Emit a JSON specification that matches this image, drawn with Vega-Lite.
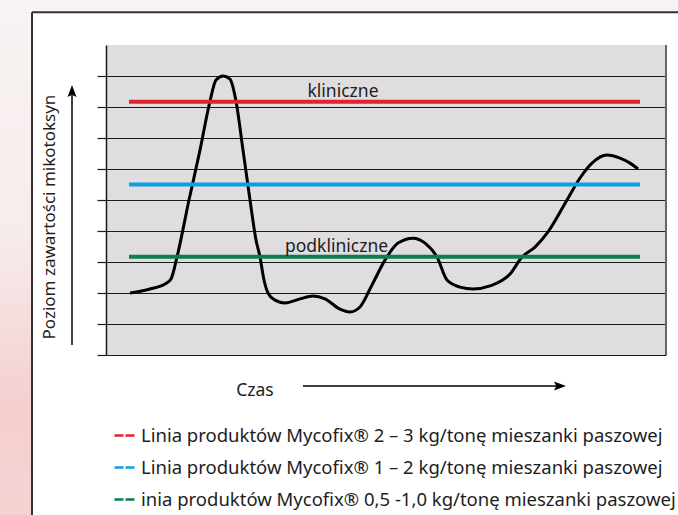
{
  "$schema": "https://vega.github.io/schema/vega-lite/v6.json",
  "width": 560,
  "height": 310,
  "autosize": {"type": "none"},
  "padding": {"left": 106, "top": 45, "right": 12, "bottom": 160},
  "background": "#ffffff",
  "config": {"view": {"stroke": null, "fill": "#dfdde0"}, "text": {"font": "Noto Sans", "color": "#1e1e1e"}},
  "resolve": {"axis": {"y": "independent", "x": "independent"}},
  "datasets": {
    "krzywa": [
      {"t": 24, "v": 2.0}, {"t": 44, "v": 2.13}, {"t": 59, "v": 2.29}, {"t": 65, "v": 2.45},
      {"t": 71, "v": 3.16}, {"t": 83, "v": 5.0}, {"t": 94, "v": 6.61}, {"t": 104, "v": 8.19},
      {"t": 110, "v": 8.87}, {"t": 117, "v": 9.0}, {"t": 124, "v": 8.9}, {"t": 130, "v": 8.19},
      {"t": 137, "v": 6.61}, {"t": 144, "v": 5.0}, {"t": 150, "v": 3.71}, {"t": 154, "v": 3.16},
      {"t": 158, "v": 2.42}, {"t": 162, "v": 2.0}, {"t": 169, "v": 1.77}, {"t": 179, "v": 1.68},
      {"t": 194, "v": 1.81}, {"t": 207, "v": 1.9}, {"t": 219, "v": 1.81}, {"t": 234, "v": 1.48},
      {"t": 244, "v": 1.39}, {"t": 254, "v": 1.55}, {"t": 266, "v": 2.26}, {"t": 279, "v": 3.06},
      {"t": 292, "v": 3.61}, {"t": 307, "v": 3.77}, {"t": 319, "v": 3.61}, {"t": 331, "v": 3.16},
      {"t": 341, "v": 2.42}, {"t": 354, "v": 2.19}, {"t": 367, "v": 2.13}, {"t": 384, "v": 2.23},
      {"t": 404, "v": 2.61}, {"t": 416, "v": 3.16}, {"t": 429, "v": 3.48}, {"t": 442, "v": 3.97},
      {"t": 461, "v": 5.0}, {"t": 474, "v": 5.71}, {"t": 486, "v": 6.19}, {"t": 501, "v": 6.45},
      {"t": 514, "v": 6.35}, {"t": 524, "v": 6.19}, {"t": 532, "v": 6.0}
    ],
    "linie": [
      {"seria": "Linia produktów Mycofix® 2 – 3 kg/tonę mieszanki paszowej", "poziom": 8.17, "od": 23, "do": 534},
      {"seria": "Linia produktów Mycofix® 1 – 2 kg/tonę mieszanki paszowej", "poziom": 5.5, "od": 23, "do": 534},
      {"seria": "inia produktów Mycofix® 0,5 -1,0 kg/tonę mieszanki paszowej", "poziom": 3.17, "od": 23, "do": 534}
    ],
    "etykiety": [
      {"tekst": "kliniczne", "t": 237, "v": 8.32},
      {"tekst": "podkliniczne", "t": 230.5, "v": 3.32}
    ]
  },
  "layer": [
    {
      "data": {"name": "krzywa"},
      "mark": {"type": "line", "color": "#000000", "strokeWidth": 3, "interpolate": "monotone"},
      "encoding": {
        "x": {"field": "t", "type": "quantitative", "scale": {"domain": [0, 560], "nice": false, "zero": false}, "axis": null},
        "y": {
          "field": "v",
          "type": "quantitative",
          "scale": {"domain": [0, 10], "nice": false, "zero": false},
          "axis": {
            "values": [0, 1, 2, 3, 4, 5, 6, 7, 8, 9],
            "grid": true,
            "gridColor": "#1a1a1a",
            "gridWidth": 1.2,
            "gridOpacity": 1,
            "ticks": true,
            "tickSize": 9,
            "tickColor": "#1a1a1a",
            "tickWidth": 1.2,
            "labels": false,
            "domain": true,
            "domainColor": "#1a1a1a",
            "domainWidth": 1.5,
            "title": null
          }
        }
      }
    },
    {
      "data": {"values": [{}]},
      "mark": {
        "type": "rect",
        "fill": {
          "gradient": "linear", "x1": 0, "y1": 0, "x2": 0, "y2": 1,
          "stops": [
            {"offset": 0, "color": "#f7f4f3"},
            {"offset": 0.4, "color": "#f7ecec"},
            {"offset": 0.68, "color": "#f4cfd0"},
            {"offset": 0.85, "color": "#f5d3d3"},
            {"offset": 1, "color": "#f7e4e4"}
          ]
        }
      },
      "encoding": {
        "x": {"datum": -120, "type": "quantitative", "axis": null},
        "x2": {"datum": -74},
        "y": {"datum": -8, "type": "quantitative", "axis": null},
        "y2": {"datum": 12}
      }
    },
    {
      "data": {"values": [{}]},
      "mark": {"type": "rect", "fill": "#f7f4f3"},
      "encoding": {
        "x": {"datum": -74, "type": "quantitative", "axis": null},
        "x2": {"datum": 620},
        "y": {"datum": 11.06, "type": "quantitative", "axis": null},
        "y2": {"datum": 12}
      }
    },
    {
      "data": {"values": [{}]},
      "mark": {"type": "rule", "stroke": "#333333", "strokeWidth": 2},
      "encoding": {
        "x": {"datum": -74, "type": "quantitative", "axis": null},
        "y": {"datum": -8, "type": "quantitative", "axis": null},
        "y2": {"datum": 11.06}
      }
    },
    {
      "data": {"values": [{}]},
      "mark": {"type": "rule", "stroke": "#333333", "strokeWidth": 2},
      "encoding": {
        "x": {"datum": -74, "type": "quantitative", "axis": null},
        "x2": {"datum": 620},
        "y": {"datum": 11.06, "type": "quantitative", "axis": null}
      }
    },
    {
      "data": {"values": [{}]},
      "mark": {"type": "rule", "stroke": "#666666", "strokeWidth": 2},
      "encoding": {
        "x": {"datum": 560, "type": "quantitative", "axis": null},
        "y": {"datum": 0, "type": "quantitative", "axis": null},
        "y2": {"datum": 10}
      }
    },
    {
      "data": {"name": "linie"},
      "mark": {"type": "rule", "strokeWidth": 4},
      "encoding": {
        "x": {"field": "od", "type": "quantitative", "axis": null},
        "x2": {"field": "do"},
        "y": {"field": "poziom", "type": "quantitative", "axis": null},
        "color": {
          "field": "seria",
          "type": "nominal",
          "scale": {
            "domain": [
              "Linia produktów Mycofix® 2 – 3 kg/tonę mieszanki paszowej",
              "Linia produktów Mycofix® 1 – 2 kg/tonę mieszanki paszowej",
              "inia produktów Mycofix® 0,5 -1,0 kg/tonę mieszanki paszowej"
            ],
            "range": ["#e3232b", "#0aa0e2", "#0b7d4e"]
          },
          "legend": {
            "orient": "none",
            "legendX": 7,
            "legendY": 379,
            "title": null,
            "symbolType": "stroke",
            "symbolStrokeWidth": 2.5,
            "symbolSize": 400,
            "symbolDash": [9, 2],
            "labelFont": "Noto Sans",
            "labelFontSize": 18.5,
            "labelColor": "#1e1e1e",
            "labelLimit": 1000,
            "labelOffset": 5,
            "rowPadding": 11
          }
        }
      }
    },
    {
      "data": {"name": "etykiety"},
      "mark": {"type": "text", "fontSize": 17.5, "align": "center", "baseline": "alphabetic"},
      "encoding": {
        "x": {"field": "t", "type": "quantitative", "axis": null},
        "y": {"field": "v", "type": "quantitative", "axis": null},
        "text": {"field": "tekst"}
      }
    },
    {
      "data": {"values": [{}]},
      "mark": {"type": "text", "fontSize": 17, "angle": 270, "align": "center", "baseline": "middle"},
      "encoding": {
        "x": {"datum": -56, "type": "quantitative", "axis": null},
        "y": {"datum": 4.45, "type": "quantitative", "axis": null},
        "text": {"value": "Poziom zawartości mikotoksyn"}
      }
    },
    {
      "data": {"values": [{}]},
      "mark": {"type": "rule", "stroke": "#000000", "strokeWidth": 1.5},
      "encoding": {
        "x": {"datum": -34, "type": "quantitative", "axis": null},
        "y": {"datum": 0.32, "type": "quantitative", "axis": null},
        "y2": {"datum": 8.39}
      }
    },
    {
      "data": {"values": [{}]},
      "mark": {"type": "point", "filled": true, "color": "#000000", "opacity": 1, "size": 225, "shape": "M0,-1L0.6,0.6L0,0.3L-0.6,0.6Z"},
      "encoding": {
        "x": {"datum": -34, "type": "quantitative", "axis": null},
        "y": {"datum": 8.47, "type": "quantitative", "axis": null}
      }
    },
    {
      "data": {"values": [{}]},
      "mark": {"type": "text", "fontSize": 17.5, "align": "center", "baseline": "alphabetic"},
      "encoding": {
        "x": {"datum": 149, "type": "quantitative", "axis": null},
        "y": {"datum": -1.32, "type": "quantitative", "axis": null},
        "text": {"value": "Czas"}
      }
    },
    {
      "data": {"values": [{}]},
      "mark": {"type": "rule", "stroke": "#000000", "strokeWidth": 1.5},
      "encoding": {
        "x": {"datum": 197, "type": "quantitative", "axis": null},
        "x2": {"datum": 455},
        "y": {"datum": -1.0, "type": "quantitative", "axis": null}
      }
    },
    {
      "data": {"values": [{}]},
      "mark": {"type": "point", "filled": true, "color": "#000000", "opacity": 1, "size": 225, "shape": "M1,0L-0.6,0.6L-0.3,0L-0.6,-0.6Z"},
      "encoding": {
        "x": {"datum": 452.5, "type": "quantitative", "axis": null},
        "y": {"datum": -1.0, "type": "quantitative", "axis": null}
      }
    }
  ]
}
